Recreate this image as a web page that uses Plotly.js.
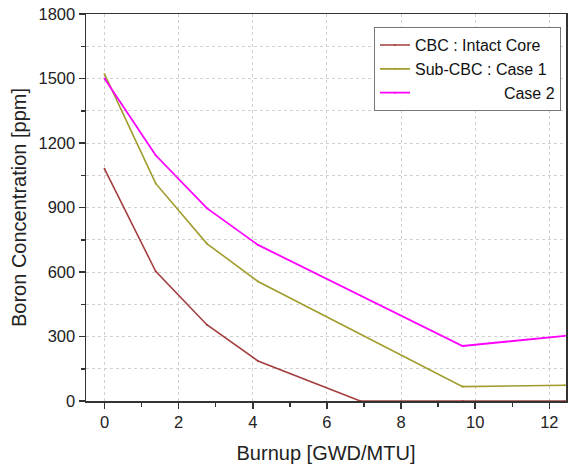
<!DOCTYPE html>
<html>
<head>
<meta charset="utf-8">
<script src="https://cdn.plot.ly/plotly-3.0.1.min.js"></script>
<style>html,body{margin:0;padding:0;background:#fff;}#chart{width:569px;height:466px;}</style>
</head>
<body>
<div id="chart"></div>
<script>
// Burnup steps [GWD/MTU]
const burnupCBC = [0, 1.38, 2.76, 4.14, 6.9, 9.66, 12.42];
const cbcIntactCore = [1080, 603, 355, 186, 0, 0, 0];

const burnupCase = [0, 1.38, 2.76, 4.14, 9.66, 12.42];
const subCbcCase1 = [1520, 1012, 732, 556, 67, 73];
const case2 = [1500, 1143, 897, 726, 256, 303];

const seriesNames = ['CBC : Intact Core', 'Sub-CBC : Case 1', '\u00a0'.repeat(20) + 'Case 2'];
const xTickVals = [0, 2, 4, 6, 8, 10, 12];
const yTickVals = [0, 300, 600, 900, 1200, 1500, 1800];

const font = 'Arial, "Liberation Sans", sans-serif';

const traces = [
  {x: burnupCBC, y: cbcIntactCore, name: seriesNames[0], type: 'scatter', mode: 'lines+markers',
   line: {color: '#a33e3e', width: 1.6}, marker: {size: 2, color: '#a33e3e'}},
  {x: burnupCase, y: subCbcCase1, name: seriesNames[1], type: 'scatter', mode: 'lines+markers',
   line: {color: '#a09c2c', width: 1.6}, marker: {size: 2, color: '#a09c2c'}},
  {x: burnupCase, y: case2, name: seriesNames[2], type: 'scatter', mode: 'lines+markers',
   line: {color: '#ff00ff', width: 1.8}, marker: {size: 2, color: '#ff00ff'}}
];

const layout = {
  width: 569, height: 466,
  margin: {l: 86, r: 3, t: 14, b: 65},
  paper_bgcolor: '#fff', plot_bgcolor: '#fff',
  font: {family: font, color: '#222', size: 16},
  showlegend: true,
  legend: {x: 0.6, y: 0.966, xanchor: 'left', yanchor: 'top',
           bgcolor: '#fff', bordercolor: '#777', borderwidth: 1,
           font: {family: font, size: 16, color: '#111'}, tracegroupgap: 0},
  xaxis: {
    range: [-0.5, 12.45], tickvals: xTickVals, ticktext: xTickVals.map(String),
    ticks: 'outside', ticklen: 6, tickwidth: 1.5, tickcolor: '#333',
    showline: true, linecolor: '#333', linewidth: 1.5, mirror: true,
    showgrid: true, gridcolor: '#d0d0d0', griddash: 'dot', gridwidth: 1,
    zeroline: false,
    minor: {dtick: 1, tick0: 0, ticks: 'outside', ticklen: 4, tickcolor: '#333', showgrid: false},
    tickfont: {size: 16.5, family: font, color: '#222'},
    title: {text: 'Burnup [GWD/MTU]', font: {size: 20, family: font, color: '#222'}, standoff: 15}
  },
  yaxis: {
    range: [0, 1800], tickvals: yTickVals, ticktext: yTickVals.map(String),
    ticks: 'outside', ticklen: 6, tickwidth: 1.5, tickcolor: '#333',
    showline: true, linecolor: '#333', linewidth: 1.5, mirror: true,
    showgrid: false, zeroline: false,
    minor: {dtick: 150, tick0: 0, ticks: 'outside', ticklen: 4, tickcolor: '#333',
            showgrid: true, gridcolor: '#d0d0d0', griddash: 'dot', gridwidth: 1},
    tickfont: {size: 16.5, family: font, color: '#222'},
    title: {text: 'Boron Concentration [ppm]', font: {size: 20, family: font, color: '#222'}, standoff: 6}
  }
};

Plotly.newPlot('chart', traces, layout, {displayModeBar: false, staticPlot: true});
</script>
</body>
</html>
